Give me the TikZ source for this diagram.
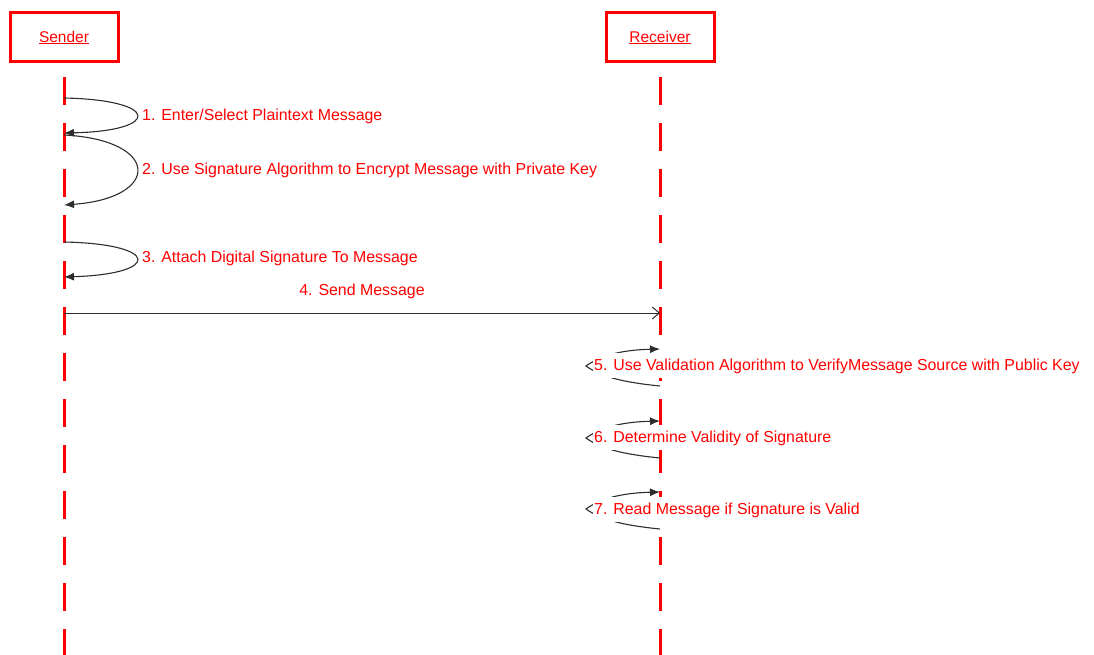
\documentclass[tikz,border=0pt]{standalone}
\usepackage{fontspec}
\setmainfont{Liberation Sans}
\usetikzlibrary{arrows.meta}
\definecolor{umlred}{RGB}{255,0,0}
\definecolor{msggray}{RGB}{45,45,45}
\begin{document}
\begin{tikzpicture}[x=1pt,y=-1pt,
  actor/.style={draw=umlred,line width=3pt,minimum width=108pt,minimum height=49pt,
    inner sep=0pt,font=\fontsize{15.5}{18}\selectfont,text=umlred},
  lifeline/.style={draw=umlred,line width=3pt,dash pattern=on 28pt off 18pt},
  selfmsg/.style={draw=msggray,line width=1.1pt,-{Latex[length=10pt,width=8pt]}},
  sendmsg/.style={draw=msggray,line width=1pt,-{Straight Barb[length=7pt,width=12pt]}},
  msglabel/.style={font=\fontsize{15.9}{18}\selectfont,text=umlred,inner sep=1pt},
  rlabel/.style={msglabel,fill=white,anchor=west,text height=13.5pt,text depth=4pt,
    inner ysep=4pt}]
\useasboundingbox (0,0) rectangle (1094,655);

% actors
\node[actor] (sender) at (64,37.5) {\underline{Sender}};
\node[actor] (receiver) at (660,37.5) {\underline{Receiver}};

% lifelines
\coordinate (stop) at (64,77);
\coordinate (sbot) at (64,655);
\coordinate (rtop) at (660,77);
\coordinate (rbot) at (660,655);
\draw[lifeline] (stop) -- (sbot);
\draw[lifeline] (rtop) -- (rbot);

% sender self messages
\coordinate (s1a) at (64,98);
\coordinate (s1b) at (64,133);
\coordinate (s2a) at (64,135);
\coordinate (s2b) at (64,205);
\coordinate (s3a) at (64,242);
\coordinate (s3b) at (64,277);
\draw[selfmsg] (s1a) .. controls (161,100) and (161,131) .. (s1b);
\draw[selfmsg] (s2a) .. controls (161,140) and (161,198) .. (s2b);
\draw[selfmsg] (s3a) .. controls (161,244) and (161,274) .. (s3b);
\node[msglabel,anchor=west] (l1) at (141,116) {1. Enter/Select Plaintext Message};
\node[msglabel,anchor=west] (l2) at (141,170) {2. Use Signature Algorithm to Encrypt Message with Private Key};
\node[msglabel,anchor=west] (l3) at (141,258) {3. Attach Digital Signature To Message};

% message to receiver
\coordinate (m4a) at (64,313);
\coordinate (m4b) at (660,313);
\draw[sendmsg] (m4a) -- (m4b);
\node[msglabel] (l4) at (362,291) {4. Send Message};

% receiver self messages, mostly covered by their labels
\coordinate (r5a) at (660,386);
\coordinate (r5t) at (586,366);
\coordinate (r5b) at (660,349);
\coordinate (r6a) at (660,458);
\coordinate (r6t) at (586,438);
\coordinate (r6b) at (660,421);
\coordinate (r7a) at (660,529);
\coordinate (r7t) at (586,509);
\coordinate (r7b) at (660,492);
\draw[selfmsg] (r5a) .. controls (620,382) and (600,376) .. (r5t)
                     .. controls (600,356) and (620,350) .. (r5b);
\draw[selfmsg] (r6a) .. controls (620,454) and (600,448) .. (r6t)
                     .. controls (600,428) and (620,422) .. (r6b);
\draw[selfmsg] (r7a) .. controls (620,525) and (600,519) .. (r7t)
                     .. controls (600,499) and (620,493) .. (r7b);
\node[rlabel] (l5) at (593,365.5) {5. Use Validation Algorithm to VerifyMessage Source with Public Key};
\node[rlabel] (l6) at (593,437.5) {6. Determine Validity of Signature};
\node[rlabel] (l7) at (593,509.5) {7. Read Message if Signature is Valid};
\end{tikzpicture}
\end{document}
